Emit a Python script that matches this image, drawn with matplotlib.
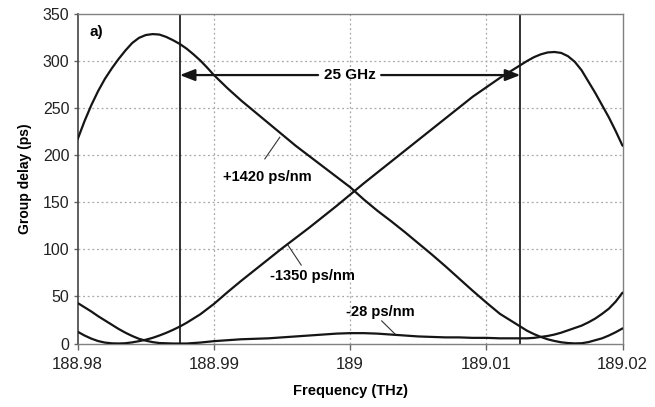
import matplotlib
matplotlib.use('Agg')
import matplotlib.pyplot as plt

plt.rcParams['font.family'] = ['Liberation Sans', 'DejaVu Sans']

# +1420 ps/nm channel: frequency (THz) and group delay (ps)
freq_pos1420 = [188.9800, 188.9805, 188.9810, 188.9815, 188.9820, 188.9825, 188.9830,
                188.9835, 188.9840, 188.9845, 188.9850, 188.9855, 188.9860, 188.9865,
                188.9870, 188.9875, 188.9880, 188.9885, 188.9890, 188.9895, 188.9900,
                188.9910, 188.9920, 188.9930, 188.9940, 188.9950, 188.9960, 188.9970,
                188.9980, 188.9990, 189.0000, 189.0010, 189.0020, 189.0030, 189.0040,
                189.0050, 189.0060, 189.0070, 189.0080, 189.0090, 189.0100, 189.0110,
                189.0120, 189.0125, 189.0130, 189.0135, 189.0140, 189.0145, 189.0150,
                189.0155, 189.0160, 189.0165, 189.0170, 189.0175, 189.0180, 189.0185,
                189.0190, 189.0195, 189.0200]
delay_pos1420 = [217, 236, 253, 268, 281, 292, 302,
                 311, 319, 324.5, 327.5, 328.5, 328, 325.5,
                 322, 318, 313, 307, 300.5, 293, 285,
                 271, 258, 246, 234, 222, 210, 199,
                 188, 177, 166, 153, 141, 130, 118.5,
                 106.5, 94.5, 82, 69, 56, 43.5, 31.5,
                 22.5, 18, 13.5, 10, 7, 4.5, 2.7,
                 1.3, 0.5, 0.1, 0.3, 1.5, 3.5, 5.5,
                 8.5, 12, 16]

# -1350 ps/nm channel
freq_neg1350 = [188.9800, 188.9805, 188.9810, 188.9815, 188.9820, 188.9825, 188.9830,
                188.9835, 188.9840, 188.9845, 188.9850, 188.9855, 188.9860, 188.9865,
                188.9870, 188.9875, 188.9880, 188.9885, 188.9890, 188.9895, 188.9900,
                188.9910, 188.9920, 188.9930, 188.9940, 188.9950, 188.9960, 188.9970,
                188.9980, 188.9990, 189.0000, 189.0010, 189.0020, 189.0030, 189.0040,
                189.0050, 189.0060, 189.0070, 189.0080, 189.0090, 189.0095, 189.0100,
                189.0105, 189.0110, 189.0115, 189.0120, 189.0125, 189.0130, 189.0135,
                189.0140, 189.0145, 189.0150, 189.0155, 189.0160, 189.0165, 189.0170,
                189.0175, 189.0180, 189.0185, 189.0190, 189.0195, 189.0200]
delay_neg1350 = [12.5, 8.5, 5.2, 2.6, 1, 0.2, 0,
                 0.3, 1.2, 2.5, 4, 6, 8.5, 11.3,
                 14.5, 18, 22, 26.5, 31, 36.5, 42,
                 54.5, 66.5, 78, 89.5, 101, 112, 123,
                 134.5, 146, 158, 170, 181.5, 193, 204.5,
                 216, 227.5, 239, 250.5, 262, 267, 272,
                 277, 282, 286.5, 291, 295.5, 300, 304,
                 307, 309, 309.5, 308.5, 305, 299, 290,
                 278, 266, 253, 240, 225.5, 210]

# -28 ps/nm channel
freq_neg28 = [188.9800, 188.9805, 188.9810, 188.9815, 188.9820, 188.9825, 188.9830,
              188.9835, 188.9840, 188.9845, 188.9850, 188.9855, 188.9860, 188.9870,
              188.9880, 188.9890, 188.9900, 188.9910, 188.9920, 188.9930, 188.9940,
              188.9950, 188.9960, 188.9970, 188.9980, 188.9990, 189.0000, 189.0010,
              189.0020, 189.0030, 189.0040, 189.0050, 189.0060, 189.0070, 189.0080,
              189.0090, 189.0100, 189.0110, 189.0120, 189.0130, 189.0135, 189.0140,
              189.0145, 189.0150, 189.0155, 189.0160, 189.0165, 189.0170, 189.0175,
              189.0180, 189.0185, 189.0190, 189.0195, 189.0200]
delay_neg28 = [43, 38.5, 34, 29, 24.5, 20, 15.5,
               11.5, 8, 5, 3, 1.5, 0.5, 0,
               0, 1, 2.5, 3.5, 4.5, 5, 5.5,
               6.5, 7.5, 8.5, 9.5, 10.5, 11, 11,
               10.5, 9.5, 8.5, 7.5, 7, 6.5, 6.5,
               6, 6, 5.5, 5.5, 5.5, 6, 7,
               8, 9.5, 11.5, 14, 16.5, 19, 22.5,
               26.5, 31.5, 37, 44.5, 54]

# 25 GHz passband edges (THz)
band_edges = [188.9875, 189.0125]

x_ticks = [188.98, 188.99, 189.0, 189.01, 189.02]
x_ticklabels = ['188.98', '188.99', '189', '189.01', '189.02']
y_ticks = [0, 50, 100, 150, 200, 250, 300, 350]

fig = plt.figure(figsize=(6.55, 4.07), dpi=100)
ax = fig.add_axes([0.1186, 0.156, 0.8318, 0.810])

grid_kw = dict(color='#a8a8a8', linewidth=0.9, linestyle=(0, (1.5, 2.2)))
for xv in x_ticks[1:-1]:
    ax.axvline(xv, **grid_kw, zorder=1)
for yv in y_ticks[1:-1]:
    ax.axhline(yv, **grid_kw, zorder=1)

for xv in band_edges:
    ax.axvline(xv, color='#222222', linewidth=1.3, zorder=2)

line_kw = dict(color='#151515', linewidth=1.6, zorder=3,
               solid_capstyle='round', solid_joinstyle='round')
ax.plot(freq_pos1420, delay_pos1420, **line_kw)
ax.plot(freq_neg1350, delay_neg1350, **line_kw)
ax.plot(freq_neg28, delay_neg28, **line_kw)

ax.set_xlim(188.98, 189.02)
ax.set_ylim(0, 350)
ax.set_xticks(x_ticks)
ax.set_xticklabels(x_ticklabels, fontsize=12, color='#222222')
ax.set_yticks(y_ticks)
ax.set_yticklabels([str(v) for v in y_ticks], fontsize=11.5, color='#222222')
ax.tick_params(axis='x', direction='out', length=4, width=1, color='#666666', pad=6)
ax.tick_params(axis='y', direction='out', length=3, width=1, color='#666666', pad=3)

for side in ['top', 'right', 'bottom']:
    ax.spines[side].set_color('#808080')
    ax.spines[side].set_linewidth(1.0)
ax.spines['left'].set_color('#444444')
ax.spines['left'].set_linewidth(1.2)

ax.set_xlabel('Frequency (THz)', fontsize=10.5, fontweight='bold', labelpad=8)
ax.set_ylabel('Group delay (ps)', fontsize=10, fontweight='bold', labelpad=8)

# 25 GHz double arrow between the passband edges
arrow_y = 285
arrow_kw = dict(arrowstyle='-|>,head_length=0.9,head_width=0.35', color='#151515', lw=1.6,
                shrinkA=0, shrinkB=0)
ax.annotate('', xy=(band_edges[0], arrow_y), xytext=(188.99765, arrow_y), arrowprops=arrow_kw)
ax.annotate('', xy=(band_edges[1], arrow_y), xytext=(189.00228, arrow_y), arrowprops=arrow_kw)
ax.text(188.99995, arrow_y, '25 GHz', ha='center', va='center', fontsize=11, fontweight='bold')

ax.text(188.9814, 331, 'a)', ha='center', va='center', fontsize=11, fontweight='bold')

# slope labels with leader lines
lead_kw = dict(color='#333333', linewidth=0.8)
ax.plot([188.99484, 188.99374], [219, 196], **lead_kw)
ax.text(188.99394, 177, '+1420 ps/nm', ha='center', va='center', fontsize=10.5, fontweight='bold')

ax.plot([188.99543, 188.99641], [104.6, 83.3], **lead_kw)
ax.text(188.99725, 72, '-1350 ps/nm', ha='center', va='center', fontsize=10.5, fontweight='bold')

ax.plot([189.00232, 189.0033], [24, 10], **lead_kw)
ax.text(189.00224, 33, '-28 ps/nm', ha='center', va='center', fontsize=10.5, fontweight='bold')

fig.savefig('out.png', dpi=100)
